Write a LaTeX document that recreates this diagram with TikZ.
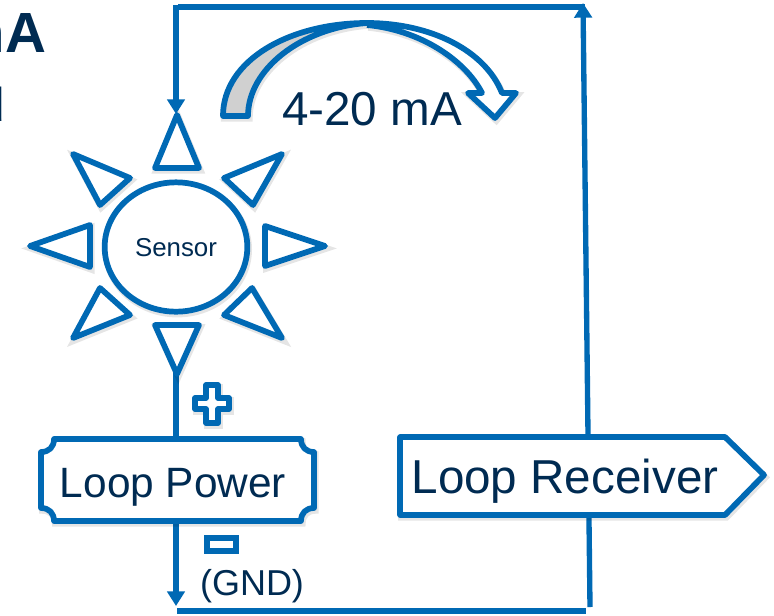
\documentclass[tikz,border=0pt]{standalone}
\usepackage{fontspec}
\setmainfont{Liberation Sans}
\usetikzlibrary{arrows.meta,shapes.geometric}
\definecolor{wireblue}{HTML}{0069B4}
\definecolor{inkblue}{HTML}{002B52}
\definecolor{bandgrey}{HTML}{D0D0D0}
\newcommand{\fs}[1]{\fontsize{#1}{#1}\selectfont}
\tikzset{
  x=0.75pt,y=-0.75pt,
  softshadow/.style={preaction={draw=black,draw opacity=.10,fill=none,line width=5pt,transform canvas={xshift=1pt,yshift=-1.8pt}}},
  wire/.style={draw=wireblue,line width=4pt},
  arrowwire/.style={wire,-{Triangle[width=13pt,length=11pt]}},
  outline/.style={draw=wireblue,line width=4.3pt,line join=round,fill=white,softshadow},
  lbl/.style={inner sep=0pt,anchor=base,text=inkblue},
}
\begin{document}
\begin{tikzpicture}
\useasboundingbox (0,0) rectangle (774,615);
\begin{scope}
\clip (0,0) rectangle (774,615);
\node[lbl,anchor=base east,font=\bfseries\fs{42.5}] (title) at (46.5,52) {mA};
\node[lbl,anchor=base east,font=\fs{35.7}] (subtitle) at (5,121) {d};
\end{scope}

% named wire corners
\coordinate (topleft) at (176,5);
\coordinate (topstart) at (178,7);
\coordinate (topright) at (585,7);
\coordinate (rayapex) at (176,114);
\coordinate (rightarrow) at (583,3);
\coordinate (rightend) at (590,607);
\coordinate (botarrow) at (176,606);
\coordinate (botleft) at (177,611);
\coordinate (botright) at (586,611);
\coordinate (raybottom) at (176,370);
\coordinate (powertop) at (176,440);
\coordinate (powerbot) at (176,520);

% wires
\draw[arrowwire] (topleft) -- (rayapex);
\draw[wire] (topstart) -- (topright);
\draw[arrowwire] (rightend) -- (rightarrow);
\draw[wire] (raybottom) -- (powertop);
\draw[arrowwire] (powerbot) -- (botarrow);
\draw[wire] (botleft) -- (botright);

% sensor rays
\draw[outline] (177,115) -- (199,168) -- (155,168) -- cycle;
\draw[outline] (155,325) -- (199,325) -- (177,374) -- cycle;
\draw[outline] (30,246) -- (90,225) -- (90,267) -- cycle;
\draw[outline] (325,246) -- (265,226) -- (265,266) -- cycle;
\draw[outline] (73,154) -- (130,178) -- (100,205) -- cycle;
\draw[outline] (282,154) -- (224,178) -- (253,205) -- cycle;
\draw[outline] (73,338) -- (100,288) -- (130,315) -- cycle;
\draw[outline] (282,338) -- (252,288) -- (224,315) -- cycle;

% sensor
\node[ellipse,outline,minimum width=107pt,minimum height=97pt,inner sep=0pt] (sensor) at (176,247) {};
\node[lbl,font=\fs{19.4}] (sensortext) at (176,256) {Sensor};

% curved arrow
\draw[draw=wireblue,line width=4.3pt,line join=round,fill=white,softshadow]
  (367,23) .. controls (430,23) and (485,50) .. (502,93) -- (516,93) -- (495,118) -- (468,93) -- (482,93)
  .. controls (465,60) and (420,30) .. (367,25);
\draw[draw=wireblue,line width=4.3pt,line join=round,fill=bandgrey,softshadow]
  (223,116) .. controls (223,60) and (290,23) .. (367,23)
  .. controls (300,28) and (248,70) .. (248,116) -- cycle;
\node[lbl,font=\fs{35.7}] (current) at (372,125) {4-20 mA};

% loop power
\draw[outline] (54,439) -- (301,439) .. controls (301,447) and (306,452) .. (314,452)
  -- (314,508) .. controls (306,508) and (301,513) .. (301,521)
  -- (54,521) .. controls (54,513) and (49,508) .. (41,508)
  -- (41,452) .. controls (49,452) and (54,447) .. (54,439) -- cycle;
\node[lbl,font=\fs{31.8}] (power) at (173,497) {Loop Power};

% plus and minus
\draw[outline] (206,385) -- (218,385) -- (218,398) -- (229,398) -- (229,409) -- (218,409)
  -- (218,423) -- (206,423) -- (206,409) -- (195,409) -- (195,398) -- (206,398) -- cycle;
\draw[draw=wireblue,line width=4.3pt,fill=white] (207,538) rectangle (236,551);
\node[lbl,font=\fs{27}] (gnd) at (252,595) {(GND)};

% loop receiver
\draw[outline] (400,437) -- (725,437) -- (764,475) -- (725,515) -- (400,515) -- cycle;
\node[lbl,font=\fs{35.7}] (receiver) at (565,493) {Loop Receiver};
\end{tikzpicture}
\end{document}
